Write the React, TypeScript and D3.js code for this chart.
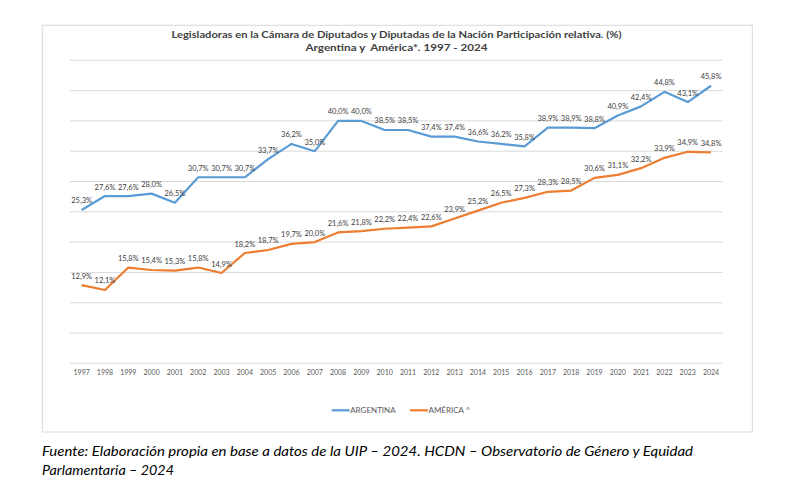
import React from "react";
import * as d3 from "d3";

const years = [
  "1997","1998","1999","2000","2001","2002","2003","2004","2005","2006",
  "2007","2008","2009","2010","2011","2012","2013","2014","2015","2016",
  "2017","2018","2019","2020","2021","2022","2023","2024",
];
const argentina = [
  25.3, 27.6, 27.6, 28.0, 26.5, 30.7, 30.7, 30.7, 33.7, 36.2,
  35.0, 40.0, 40.0, 38.5, 38.5, 37.4, 37.4, 36.6, 36.2, 35.8,
  38.9, 38.9, 38.8, 40.9, 42.4, 44.8, 43.1, 45.8,
];
const america = [
  12.9, 12.1, 15.8, 15.4, 15.3, 15.8, 14.9, 18.2, 18.7, 19.7,
  20.0, 21.6, 21.8, 22.2, 22.4, 22.6, 23.9, 25.2, 26.5, 27.3,
  28.3, 28.5, 30.6, 31.1, 32.2, 33.9, 34.9, 34.8,
];
const yTicks = [0, 5, 10, 15, 20, 25, 30, 35, 40, 45, 50];
const seriesNames = ["ARGENTINA", "AMÉRICA ^"];
const seriesColors = ["#5B9BD5", "#ED7D31"];
const titleLines = [
  "Legisladoras en la Cámara de Diputados y Diputadas de la Nación Participación relativa. (%)",
  "Argentina y  América*. 1997 - 2024",
];
const captionLines = [
  "Fuente: Elaboración propia en base a datos de la UIP – 2024. HCDN – Observatorio de Género y Equidad",
  "Parlamentaria – 2024",
];

const W = 799;
const H = 501;
const plot = { left: 70, right: 722.7, top: 60.3, bottom: 363.3 };

export default function App() {
  const x = d3
    .scaleBand<string>()
    .domain(years)
    .range([plot.left, plot.right])
    .padding(0);
  const cx = (y: string) => (x(y) as number) + x.bandwidth() / 2;
  const y = d3.scaleLinear().domain([0, 50]).range([plot.bottom, plot.top]);
  const line = d3
    .line<number>()
    .x((_, i) => cx(years[i]))
    .y((d) => y(d));
  const fmt = (v: number) => v.toFixed(1).replace(".", ",") + "%";
  const series = [argentina, america];

  return (
    <svg
      width={W}
      height={H}
      style={{ position: "absolute", left: 0, top: 0, background: "#fff" }}
      fontFamily="Lato, 'Open Sans', sans-serif"
    >
      <rect x={0} y={0} width={W} height={H} fill="#fff" />
      <rect
        x={42.3}
        y={25.3}
        width={710}
        height={406.7}
        fill="#fff"
        stroke="#D9D9D9"
        strokeWidth={1}
      />
      {titleLines.map((t, i) => (
        <text
          key={i}
          x={396.5}
          y={38 + i * 13}
          textAnchor="middle"
          fontSize={10}
          fontWeight="bold"
          fill="#404040"
          textLength={i === 0 ? 450 : 182}
          lengthAdjust="spacingAndGlyphs"
          xmlSpace="preserve"
          style={{ whiteSpace: "pre" }}
        >
          {t}
        </text>
      ))}
      {yTicks.map((t) => (
        <line
          key={t}
          x1={plot.left}
          x2={plot.right}
          y1={y(t)}
          y2={y(t)}
          stroke="#D9D9D9"
          strokeWidth={1}
        />
      ))}
      {years.map((yr) => (
        <text
          key={yr}
          x={cx(yr)}
          y={375}
          textAnchor="middle"
          fontSize={7}
          fill="#595959"
        >
          {yr}
        </text>
      ))}
      {series.map((s, si) => (
        <path
          key={si}
          d={line(s) as string}
          fill="none"
          stroke={seriesColors[si]}
          strokeWidth={2.2}
          strokeLinejoin="round"
        />
      ))}
      {series.map((s, si) =>
        s.map((v, i) => (
          <text
            key={`${si}-${i}`}
            x={cx(years[i])}
            y={y(v) - 6.5}
            textAnchor="middle"
            fontSize={7.5}
            fill="#404040"
          >
            {fmt(v)}
          </text>
        ))
      )}
      {seriesNames.map((n, i) => {
        const lx = 331.7 + i * 78.3;
        return (
          <g key={n}>
            <line
              x1={lx}
              x2={lx + 18}
              y1={410.3}
              y2={410.3}
              stroke={seriesColors[i]}
              strokeWidth={2.2}
            />
            <text x={lx + 18.5} y={413} fontSize={8} fill="#595959">
              {n}
            </text>
          </g>
        );
      })}
      {captionLines.map((t, i) => (
        <text
          key={i}
          x={42}
          y={456 + i * 19}
          fontSize={13}
          fontStyle="italic"
          fill="#000"
          textLength={i === 0 ? 651 : 132}
          lengthAdjust="spacingAndGlyphs"
        >
          {t}
        </text>
      ))}
    </svg>
  );
}
